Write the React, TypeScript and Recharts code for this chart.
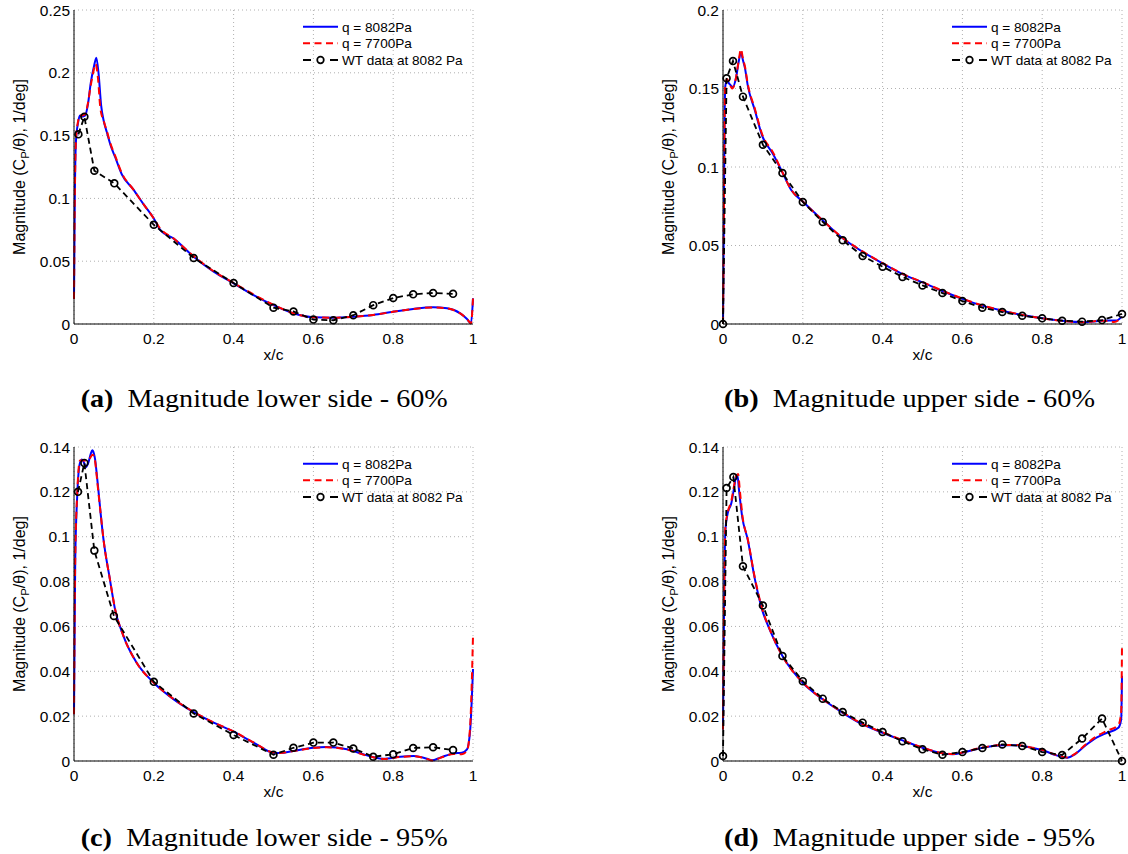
import React from 'react';
import { ComposedChart, Line, XAxis, YAxis, CartesianGrid, Legend } from 'recharts';

type P = [number, number];

// ---------------- data ----------------
const X_TICKS = [0, 0.2, 0.4, 0.6, 0.8, 1];
const Y_TICKS_A = [0, 0.05, 0.1, 0.15, 0.2, 0.25];
const Y_TICKS_B = [0, 0.05, 0.1, 0.15, 0.2];
const Y_TICKS_C = [0, 0.02, 0.04, 0.06, 0.08, 0.1, 0.12, 0.14];
const Y_TICKS_D = [0, 0.02, 0.04, 0.06, 0.08, 0.1, 0.12, 0.14];

const SERIES_NAMES = ['q = 8082Pa', 'q = 7700Pa', 'WT data at 8082 Pa'];
const CAPTION_LETTERS = ['(a)', '(b)', '(c)', '(d)'];
const CAPTION_TEXTS = [
  'Magnitude lower side - 60%',
  'Magnitude upper side - 60%',
  'Magnitude lower side - 95%',
  'Magnitude upper side - 95%',
];
const X_LABEL = 'x/c';

// (a) lower side 60%
const A_Q8082: P[] = [
  [0, 0.02], [0.002, 0.099], [0.005, 0.146], [0.01, 0.16], [0.015, 0.166], [0.02, 0.165],
  [0.028, 0.166], [0.035, 0.175], [0.042, 0.192], [0.05, 0.205], [0.056, 0.212], [0.062, 0.198],
  [0.068, 0.174], [0.075, 0.161], [0.082, 0.153], [0.092, 0.142], [0.103, 0.133], [0.12, 0.119],
  [0.149, 0.107], [0.175, 0.095], [0.2, 0.084], [0.216, 0.075], [0.25, 0.068], [0.3, 0.0536],
  [0.35, 0.0417], [0.4, 0.0324], [0.45, 0.023], [0.5, 0.015], [0.55, 0.0085], [0.6, 0.0053],
  [0.65, 0.005], [0.7, 0.0058], [0.75, 0.0072], [0.8, 0.0098], [0.85, 0.012], [0.9, 0.0133],
  [0.935, 0.0125], [0.968, 0.0085], [0.985, 0.004], [0.995, 0.0005], [1.0, 0.0204],
];
const A_Q7700: P[] = [
  [0, 0.02], [0.002, 0.1], [0.005, 0.147], [0.01, 0.161], [0.015, 0.166], [0.02, 0.166],
  [0.028, 0.167], [0.035, 0.176], [0.042, 0.19], [0.048, 0.2], [0.054, 0.207], [0.06, 0.196],
  [0.066, 0.172], [0.075, 0.161], [0.082, 0.154], [0.092, 0.143], [0.103, 0.134], [0.12, 0.12],
  [0.149, 0.107], [0.175, 0.095], [0.2, 0.084], [0.216, 0.076], [0.25, 0.068], [0.3, 0.054],
  [0.35, 0.042], [0.4, 0.0327], [0.45, 0.0235], [0.5, 0.0152], [0.55, 0.0086], [0.6, 0.0054],
  [0.65, 0.005], [0.7, 0.0058], [0.75, 0.0072], [0.8, 0.0097], [0.85, 0.0119], [0.9, 0.0132],
  [0.935, 0.0124], [0.968, 0.0084], [0.985, 0.004], [0.995, 0.0005], [1.0, 0.0204],
];
const A_WT: P[] = [
  [0.011, 0.151], [0.026, 0.165], [0.051, 0.122], [0.101, 0.112], [0.2, 0.079], [0.3, 0.0526],
  [0.4, 0.0326], [0.5, 0.013], [0.55, 0.01], [0.6, 0.0035], [0.65, 0.003], [0.7, 0.007],
  [0.75, 0.015], [0.8, 0.0207], [0.85, 0.0236], [0.9, 0.0247], [0.95, 0.024],
];

// (b) upper side 60%
const B_Q8082: P[] = [
  [0, 0], [0.002, 0.06], [0.004, 0.13], [0.006, 0.152], [0.01, 0.155], [0.016, 0.153],
  [0.025, 0.151], [0.032, 0.156], [0.04, 0.168], [0.045, 0.173], [0.05, 0.168], [0.055, 0.163],
  [0.062, 0.152], [0.08, 0.136], [0.098, 0.12], [0.126, 0.108], [0.15, 0.096], [0.171, 0.0853],
  [0.2, 0.078], [0.25, 0.066], [0.3, 0.0546], [0.35, 0.046], [0.4, 0.0386], [0.45, 0.0318],
  [0.5, 0.0265], [0.55, 0.021], [0.6, 0.016], [0.65, 0.0117], [0.7, 0.0085], [0.75, 0.0057],
  [0.8, 0.0036], [0.85, 0.002], [0.9, 0.0011], [0.95, 0.002], [0.97, 0.0022], [0.985, 0.0022],
  [1.0, 0.0047],
];
const B_Q7700: P[] = [
  [0, 0], [0.002, 0.062], [0.004, 0.131], [0.006, 0.153], [0.01, 0.156], [0.016, 0.153],
  [0.023, 0.15], [0.032, 0.156], [0.04, 0.169], [0.045, 0.175], [0.05, 0.169], [0.055, 0.164],
  [0.062, 0.153], [0.08, 0.137], [0.098, 0.121], [0.126, 0.109], [0.15, 0.096], [0.171, 0.0855],
  [0.2, 0.078], [0.25, 0.066], [0.3, 0.0548], [0.35, 0.0462], [0.4, 0.0388], [0.45, 0.032],
  [0.5, 0.0267], [0.55, 0.0212], [0.6, 0.0162], [0.65, 0.0118], [0.7, 0.0086], [0.75, 0.0058],
  [0.8, 0.0036], [0.85, 0.002], [0.9, 0.0011], [0.95, 0.0021], [0.97, 0.0016], [0.98, 0.0012],
  [1.0, 0.0045],
];
const B_WT: P[] = [
  [0, 0], [0.009, 0.1565], [0.025, 0.1675], [0.05, 0.1448], [0.1, 0.1142], [0.149, 0.0962],
  [0.2, 0.0777], [0.25, 0.065], [0.3, 0.0533], [0.35, 0.0433], [0.4, 0.0365], [0.45, 0.03],
  [0.5, 0.0246], [0.55, 0.0197], [0.6, 0.0146], [0.65, 0.0104], [0.7, 0.0076], [0.75, 0.0053],
  [0.8, 0.0036], [0.85, 0.0021], [0.9, 0.0015], [0.95, 0.0025], [1.0, 0.0064],
];

// (c) lower side 95%
const C_Q8082: P[] = [
  [0, 0.0208], [0.003, 0.088], [0.008, 0.118], [0.015, 0.133], [0.02, 0.1344], [0.025, 0.133],
  [0.03, 0.131], [0.036, 0.133], [0.042, 0.137], [0.046, 0.1385], [0.05, 0.137], [0.053, 0.1344],
  [0.057, 0.128], [0.061, 0.121], [0.067, 0.11], [0.074, 0.0987], [0.09, 0.081], [0.103, 0.0675],
  [0.124, 0.0557], [0.157, 0.0438], [0.2, 0.0349], [0.25, 0.0275], [0.3, 0.0218], [0.35, 0.0171],
  [0.4, 0.0131], [0.45, 0.0082], [0.5, 0.0037], [0.517, 0.0036], [0.55, 0.0045], [0.6, 0.0059],
  [0.633, 0.0062], [0.684, 0.0052], [0.734, 0.0025], [0.776, 0.001], [0.818, 0.0019],
  [0.851, 0.0022], [0.885, 0.001], [0.897, 0.0003], [0.918, 0.0015], [0.951, 0.0034],
  [0.972, 0.0037], [0.985, 0.0052], [0.993, 0.014], [1.0, 0.041],
];
const C_Q7700: P[] = [
  [0, 0.0208], [0.003, 0.089], [0.008, 0.119], [0.015, 0.134], [0.02, 0.134], [0.025, 0.134],
  [0.033, 0.134], [0.04, 0.135], [0.046, 0.1366], [0.05, 0.136], [0.053, 0.1335],
  [0.057, 0.127], [0.061, 0.12], [0.067, 0.11], [0.074, 0.0987], [0.09, 0.081], [0.103, 0.0678],
  [0.124, 0.0557], [0.157, 0.0438], [0.2, 0.0349], [0.25, 0.0276], [0.3, 0.0219], [0.35, 0.0172],
  [0.4, 0.0132], [0.45, 0.0083], [0.5, 0.0038], [0.517, 0.0036], [0.55, 0.0044], [0.6, 0.0058],
  [0.633, 0.0061], [0.684, 0.0051], [0.734, 0.0024], [0.776, 0.0009], [0.818, 0.0018],
  [0.851, 0.0021], [0.885, 0.0009], [0.897, 0.0002], [0.918, 0.0014], [0.951, 0.0031],
  [0.972, 0.003], [0.985, 0.0045], [0.993, 0.016], [1.0, 0.0557],
];
const C_WT: P[] = [
  [0.01, 0.12], [0.026, 0.1329], [0.051, 0.0938], [0.1, 0.0647], [0.2, 0.0353], [0.3, 0.0212],
  [0.4, 0.0116], [0.5, 0.0028], [0.55, 0.0059], [0.6, 0.0082], [0.65, 0.0082], [0.7, 0.0056],
  [0.75, 0.0019], [0.8, 0.003], [0.85, 0.0058], [0.9, 0.0061], [0.95, 0.0049],
];

// (d) upper side 95%
const D_Q8082: P[] = [
  [0, 0.014], [0.003, 0.073], [0.006, 0.103], [0.012, 0.1106], [0.021, 0.115], [0.027, 0.121],
  [0.033, 0.127], [0.036, 0.1276], [0.04, 0.121], [0.048, 0.109], [0.062, 0.0987], [0.08, 0.081],
  [0.098, 0.0675], [0.117, 0.0586], [0.149, 0.0468], [0.2, 0.0349], [0.25, 0.0275], [0.3, 0.0215],
  [0.35, 0.0163], [0.4, 0.0126], [0.45, 0.0092], [0.5, 0.0059], [0.55, 0.0034], [0.576, 0.003],
  [0.6, 0.0037], [0.65, 0.0059], [0.7, 0.007], [0.736, 0.007], [0.772, 0.0059], [0.8, 0.0049],
  [0.836, 0.0025], [0.863, 0.0015], [0.882, 0.003], [0.909, 0.007], [0.936, 0.0104],
  [0.963, 0.0126], [0.991, 0.0148], [0.998, 0.0186], [1.0, 0.0379],
];
const D_Q7700: P[] = [
  [0, 0.014], [0.003, 0.075], [0.006, 0.104], [0.012, 0.111], [0.021, 0.116], [0.027, 0.122],
  [0.033, 0.127], [0.038, 0.128], [0.042, 0.121], [0.049, 0.109], [0.062, 0.099], [0.08, 0.0815],
  [0.098, 0.068], [0.117, 0.0588], [0.149, 0.0468], [0.2, 0.035], [0.25, 0.0276], [0.3, 0.0217],
  [0.35, 0.0165], [0.4, 0.0128], [0.45, 0.0093], [0.5, 0.006], [0.55, 0.0035], [0.576, 0.0031],
  [0.6, 0.0038], [0.65, 0.006], [0.7, 0.0071], [0.736, 0.0071], [0.772, 0.006], [0.8, 0.005],
  [0.836, 0.0026], [0.863, 0.0016], [0.882, 0.0032], [0.909, 0.0074], [0.936, 0.011],
  [0.963, 0.0135], [0.991, 0.016], [0.998, 0.022], [1.0, 0.052],
];
const D_WT: P[] = [
  [0, 0.0022], [0.009, 0.1217], [0.026, 0.1266], [0.05, 0.0868], [0.1, 0.0693], [0.149, 0.0468],
  [0.2, 0.0356], [0.25, 0.0278], [0.3, 0.0218], [0.35, 0.0171], [0.4, 0.0129], [0.45, 0.0088],
  [0.5, 0.0052], [0.55, 0.0028], [0.6, 0.004], [0.65, 0.0058], [0.7, 0.0074], [0.75, 0.0067],
  [0.8, 0.004], [0.85, 0.0027], [0.9, 0.01], [0.95, 0.0189], [1.0, 0.0],
];

// ---------------- rendering ----------------
const SANS = "'Liberation Sans', Arial, Helvetica, sans-serif";
const SERIF = "'Liberation Serif', 'DejaVu Serif', serif";
const toPts = (arr: P[]) => arr.map(([x, y]) => ({ x, y }));
const fmt = (v: number) => String(Number(v.toFixed(4)));

const CW = 479;
const CH = 372;
const PL = 74; // plot left inside chart
const PT = 10; // plot top
const PR = 473; // plot right
const PB = 324; // plot bottom
const TICK_FS = 15.5;
const LEG_FS = 13.6;

const LegendContent = () => (
  <svg width={180} height={54} style={{ overflow: 'visible', display: 'block' }}>
    <g fontFamily={SANS} fontSize={LEG_FS} fill="#000">
      <line x1={3} x2={38} y1={10.7} y2={10.7} stroke="#0000ff" strokeWidth={2} />
      <text x={42} y={10.7} dy="0.36em">{SERIES_NAMES[0]}</text>
      <line x1={3} x2={38} y1={27.3} y2={27.3} stroke="#ff0000" strokeWidth={2} strokeDasharray="7 4.5" />
      <text x={42} y={27.3} dy="0.36em">{SERIES_NAMES[1]}</text>
      <line x1={3} x2={11} y1={44} y2={44} stroke="#000" strokeWidth={2} />
      <circle cx={20.5} cy={44} r={3.3} fill="none" stroke="#000" strokeWidth={1.7} />
      <line x1={30} x2={38} y1={44} y2={44} stroke="#000" strokeWidth={2} />
      <text x={42} y={44} dy="0.36em">{SERIES_NAMES[2]}</text>
    </g>
  </svg>
);

const YLabel = () => {
  const x = 19.5;
  const y = (PT + PB) / 2;
  return (
    <text
      x={x}
      y={y}
      transform={`rotate(-90, ${x}, ${y})`}
      textAnchor="middle"
      dy="0.36em"
      fontFamily={SANS}
      fontSize={16}
      fill="#000"
    >
      Magnitude (C<tspan dy={4} fontSize={11.5}>P</tspan>
      <tspan dy={-4}>/θ), 1/deg]</tspan>
    </text>
  );
};

const XLabel = () => (
  <text x={(PL + PR) / 2} y={PB + 36} textAnchor="middle" fontFamily={SANS} fontSize={TICK_FS} fill="#000">
    {X_LABEL}
  </text>
);

type PanelProps = {
  left: number;
  top: number;
  yTicks: number[];
  q8082: P[];
  q7700: P[];
  wt: P[];
};

const Panel = ({ left, top, yTicks, q8082, q7700, wt }: PanelProps) => {
  const yMax = yTicks[yTicks.length - 1];
  const tickStyle = { fontFamily: SANS, fontSize: TICK_FS, fill: '#000' };
  return (
    <div style={{ position: 'absolute', left, top, width: CW, height: CH }}>
      <ComposedChart
        width={CW}
        height={CH}
        margin={{ top: PT, left: 0, right: CW - PR, bottom: 0 }}
      >
        <CartesianGrid stroke="#b0b0b0" strokeDasharray="1 3" strokeWidth={1} />
        <XAxis
          type="number"
          dataKey="x"
          domain={[0, 1]}
          ticks={X_TICKS}
          tickFormatter={fmt}
          height={CH - PB}
          axisLine={{ stroke: '#000', strokeWidth: 1 }}
          tickLine={false}
          tickSize={0}
          tickMargin={8.5}
          tick={tickStyle}
          interval={0}
          label={() => <XLabel />}
        />
        <YAxis
          type="number"
          dataKey="y"
          domain={[0, yMax]}
          ticks={yTicks}
          tickFormatter={fmt}
          width={PL}
          axisLine={{ stroke: '#000', strokeWidth: 1 }}
          tickLine={false}
          tickSize={0}
          tickMargin={4}
          tick={tickStyle}
          interval={0}
          label={() => <YLabel />}
        />
        <Legend
          layout="vertical"
          align="center"
          verticalAlign="middle"
          content={() => <LegendContent />}
          wrapperStyle={{ position: 'absolute', left: 300, top: 16, width: 180, height: 54 }}
        />
        <Line
          data={toPts(q8082)}
          dataKey="y"
          name={SERIES_NAMES[0]}
          type="monotoneX"
          stroke="#0000ff"
          strokeWidth={2}
          dot={false}
          activeDot={false}
          isAnimationActive={false}
        />
        <Line
          data={toPts(q7700)}
          dataKey="y"
          name={SERIES_NAMES[1]}
          type="monotoneX"
          stroke="#ff0000"
          strokeWidth={2}
          strokeDasharray="7 4.5"
          dot={false}
          activeDot={false}
          isAnimationActive={false}
        />
        <Line
          data={toPts(wt)}
          dataKey="y"
          name={SERIES_NAMES[2]}
          type="linear"
          stroke="#000"
          strokeWidth={1.8}
          strokeDasharray="6 4"
          dot={{ r: 3.4, stroke: '#000', strokeWidth: 1.7, fill: 'none', strokeDasharray: '' }}
          activeDot={false}
          isAnimationActive={false}
        />
      </ComposedChart>
    </div>
  );
};

const CAPTION_POS = [
  { x: 80.7, y: 406.7, w: 367 },
  { x: 724, y: 406.7, w: 371 },
  { x: 80.7, y: 846, w: 367 },
  { x: 724, y: 846, w: 371 },
];

export default function App() {
  return (
    <div style={{ position: 'absolute', left: 0, top: 0, width: 1128, height: 854, background: '#fff', overflow: 'hidden' }}>
      <Panel left={0} top={0} yTicks={Y_TICKS_A} q8082={A_Q8082} q7700={A_Q7700} wt={A_WT} />
      <Panel left={649.3} top={0} yTicks={Y_TICKS_B} q8082={B_Q8082} q7700={B_Q7700} wt={B_WT} />
      <Panel left={0} top={437.3} yTicks={Y_TICKS_C} q8082={C_Q8082} q7700={C_Q7700} wt={C_WT} />
      <Panel left={649.3} top={437.3} yTicks={Y_TICKS_D} q8082={D_Q8082} q7700={D_Q7700} wt={D_WT} />
      <svg
        width={1128}
        height={854}
        style={{ position: 'absolute', left: 0, top: 0, pointerEvents: 'none' }}
      >
        {CAPTION_POS.map((p, i) => (
          <text
            key={i}
            x={p.x}
            y={p.y}
            fontFamily={SERIF}
            fontSize={25}
            fill="#000"
            textLength={p.w}
            lengthAdjust="spacingAndGlyphs"
          >
            <tspan fontWeight="bold">{CAPTION_LETTERS[i]}</tspan>
            {'\u2002'}
            {CAPTION_TEXTS[i]}
          </text>
        ))}
      </svg>
    </div>
  );
}
